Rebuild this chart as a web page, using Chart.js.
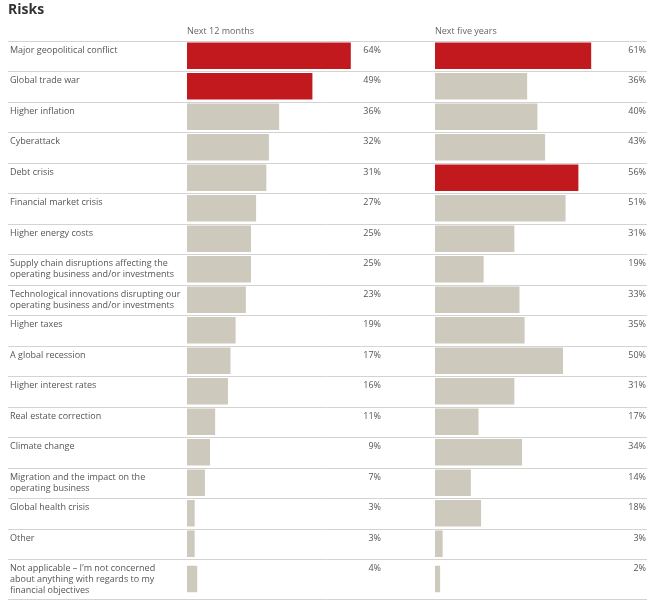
<!DOCTYPE html>
<html>
<head>
<meta charset="utf-8">
<script src="https://cdn.jsdelivr.net/npm/chart.js@4.4.1/dist/chart.umd.min.js"></script>
<style>
  body { margin: 0; background: #fff; }
  canvas { display: block; }
</style>
</head>
<body>
<canvas id="risksChart" width="657" height="606"></canvas>
<script>
const risks = [
    ['Major geopolitical conflict'],
    ['Global trade war'],
    ['Higher inflation'],
    ['Cyberattack'],
    ['Debt crisis'],
    ['Financial market crisis'],
    ['Higher energy costs'],
    ['Supply chain disruptions affecting the', 'operating business and/or investments'],
    ['Technological innovations disrupting our', 'operating business and/or investments'],
    ['Higher taxes'],
    ['A global recession'],
    ['Higher interest rates'],
    ['Real estate correction'],
    ['Climate change'],
    ['Migration and the impact on the', 'operating business'],
    ['Global health crisis'],
    ['Other'],
    ['Not applicable \u2013 I\u2019m not concerned', 'about anything with regards to my', 'financial objectives']
];
const next12Months = [64, 49, 36, 32, 31, 27, 25, 25, 23, 19, 17, 16, 11, 9, 7, 3, 3, 4];
const nextFiveYears = [61, 36, 40, 43, 56, 51, 31, 19, 33, 35, 50, 31, 17, 34, 14, 18, 3, 2];
const columnTitles = ['Next 12 months', 'Next five years'];

const RED = 'rgb(193, 25, 30)';
const GREY = 'rgb(205, 201, 188)';
const LINE = '#d3d3d3';
const LAST_ROW_SIZE = 1.31; // the last row holds three lines of text, so it is taller

// the two biggest answers in each column are red
function barColours(values) {
    const cut = [...values].sort((a, b) => b - a)[1];
    return values.map(v => v >= cut ? RED : GREY);
}

// category axis where the final row gets some extra height
class RiskRows extends Chart.CategoryScale {
    getPixelForDecimal(decimal) {
        const rows = this._valueRange;
        let pos = decimal * rows;
        if (pos > rows - 1) pos = rows - 1 + (pos - (rows - 1)) * LAST_ROW_SIZE;
        return super.getPixelForDecimal(pos / (rows - 1 + LAST_ROW_SIZE));
    }
}
RiskRows.id = 'riskRows';
RiskRows.defaults = Chart.CategoryScale.defaults;
Chart.register(RiskRows);

// separators, category names and percentages
const rowText = {
    id: 'rowText',
    beforeDatasetsDraw(chart) {
        const { ctx, chartArea, scales: { y } } = chart;
        ctx.save();
        ctx.strokeStyle = LINE;
        ctx.lineWidth = 1;
        for (let k = 0; k <= risks.length; k++) {
            const py = Math.round(y.getPixelForValue(k - 0.5)) + 0.5;
            ctx.beginPath();
            ctx.moveTo(y.left, py);
            ctx.lineTo(chartArea.right, py);
            ctx.stroke();
        }
        ctx.restore();
    },
    afterDatasetsDraw(chart) {
        const { ctx, scales: { y, x, x2 } } = chart;
        ctx.save();
        ctx.fillStyle = '#555';
        ctx.font = '9px "Open Sans"';
        ctx.textBaseline = 'middle';
        risks.forEach((lines, i) => {
            const top = y.getPixelForValue(i - 0.5);
            ctx.textAlign = 'left';
            lines.forEach((line, k) => ctx.fillText(line, y.left + 2, top + 9.5 + k * 11));
            ctx.textAlign = 'right';
            ctx.fillText(next12Months[i] + '%', x.right - 54, top + 9.5);
            ctx.fillText(nextFiveYears[i] + '%', x2.right - 1, top + 9.5);
        });
        ctx.restore();
    }
};

Chart.defaults.font.family = '"Open Sans", sans-serif';

function columnAxis(title, widthShare, max, weight) {
    return {
        type: 'linear',
        position: 'top',
        stack: 'columns',
        stackWeight: widthShare,
        weight: weight,
        min: 0,
        max: max,
        grid: { display: false, drawTicks: false },
        border: { display: false },
        ticks: { display: false },
        title: {
            display: true,
            text: title,
            align: 'start',
            color: '#666',
            font: { size: 9 },
            padding: { top: 0, bottom: 4 }
        }
    };
}

const ctx = document.getElementById('risksChart').getContext('2d');
const risksChart = new Chart(ctx, {
    type: 'bar',
    data: {
        labels: risks,
        datasets: [{
            data: next12Months,
            xAxisID: 'x',
            backgroundColor: barColours(next12Months),
            grouped: false,
            categoryPercentage: 1,
            barPercentage: 0.87
        }, {
            data: nextFiveYears,
            xAxisID: 'x2',
            backgroundColor: barColours(nextFiveYears),
            grouped: false,
            categoryPercentage: 1,
            barPercentage: 0.87
        }]
    },
    options: {
        indexAxis: 'y',
        responsive: false,
        animation: false,
        layout: { padding: { left: 8, right: 10, top: 0, bottom: 7 } },
        scales: {
            x: columnAxis(columnTitles[0], 248, 96.9, 1),
            x2: columnAxis(columnTitles[1], 212, 82.8, 0),
            y: {
                type: 'riskRows',
                offset: true,
                grid: { display: false, drawTicks: false },
                border: { display: false },
                ticks: { display: false },
                afterFit(scale) { scale.width = 179; }
            }
        },
        plugins: {
            legend: { display: false },
            tooltip: { enabled: false },
            title: {
                display: true,
                text: 'Risks',
                align: 'start',
                color: '#333',
                font: { size: 14, weight: 'bold' },
                padding: { top: 2, bottom: 7 }
            }
        }
    },
    plugins: [rowText]
});
</script>
</body>
</html>
